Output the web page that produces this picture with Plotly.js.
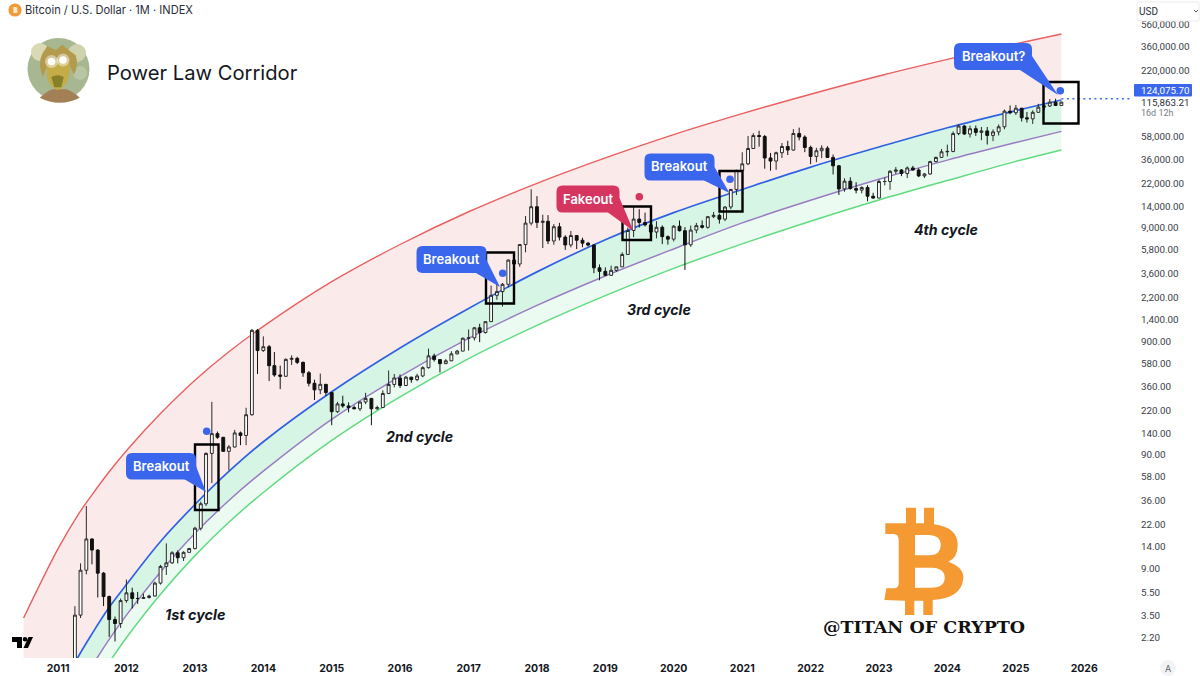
<!DOCTYPE html>
<html><head><meta charset="utf-8">
<script src="https://cdn.plot.ly/plotly-3.0.1.min.js"></script>
<style>html,body{margin:0;padding:0;background:#fff;overflow:hidden}#c{width:1200px;height:676px}</style>
</head><body><div id="c"></div>
<script>
const startYear = 2011, startMonth = 3, monthCount = 174;
const open = [
 .78,3.5,8.7,16.4,13.1,8.2,5.1,3.2,2.95,
 4.7,5.5,4.9,4.9,5.0,5.15,6.7,9.4,10.1,12.4,11.2,12.5,
 13.5,20.4,33.5,93,139,129,97,106,141,134,204,1130,
 750,810,552,457,445,627,640,590,478,386,338,378,
 320,217,254,244,236,230,264,284,230,236,314,377,
 430,369,437,416,448,530,673,624,575,609,701,742,
 963,970,1190,1080,1348,2300,2480,2875,4700,4340,6440,9950,
 13880,10100,10320,6920,9240,7490,6390,7730,7030,6630,6370,4020,
 3740,3450,3820,4100,5270,8570,10800,10090,9600,8300,9150,7560,
 7190,9350,8530,6410,8640,9450,9140,11340,11650,10780,13800,19700,
 28990,33100,45200,58800,57700,37300,35040,41500,47100,43800,61300,57000,
 46200,38500,43200,45500,37700,31800,19900,23300,20050,19430,20500,17160,
 16540,23130,23140,28470,29230,27200,30470,29230,25930,26970,34650,37720,
 42260,42580,61200,71330,60670,67500,62700,64600,58970,63330,70220,96400,
 93430,102400,84300,82500,94200,104600,107100,115700,108200];
const high = [
 4.2,10,32,16.6,13.3,8.4,5.2,3.4,4.9,
 7.2,6.1,5.6,5.4,5.3,6.9,9.7,15,12.8,13,12.8,13.7,
 21,35,95,265,145,130,110,150,145,235,1160,1160,
 1000,840,728,552,640,680,660,600,495,415,470,380,
 320,265,300,262,246,268,318,285,245,335,500,466,
 462,448,440,468,545,780,705,630,630,740,760,975,
 1150,1210,1290,1350,2800,3000,2950,4770,5000,6470,11500,19800,
 17200,11800,11700,9750,10000,7780,8480,7800,7400,6800,6500,4300,
 4050,4200,4100,5500,9100,13900,13200,12300,10900,10350,9500,7750,
 9550,10500,9180,9470,10000,10500,11450,12480,12080,14000,19900,29300,
 41900,58300,61700,64800,59500,41300,42400,50500,52900,67000,69000,59100,
 47900,45800,48200,47400,40000,32400,24700,25200,22800,21000,21500,18400,
 23950,25200,29200,31000,29800,31400,31800,30200,27500,35200,38400,44700,
 48900,64000,73800,72700,71900,72000,70000,70000,66500,73600,99800,108300,
 109300,102800,95000,97900,111900,110400,123200,124075,116800];
const low = [
 .56,3.3,8,9.8,5,4.2,2.25,2.05,2.7,
 4.5,4,4.4,4.9,4.9,5.2,6.5,7.9,9.9,10,10.5,12.5,
 13.3,19.5,32,51,125,96,66,105,110,110,200,466,
 730,404,441,343,440,560,570,440,363,275,310,300,
 165,212,235,214,228,220,253,165,225,235,310,355,
 351,365,390,403,436,520,600,480,570,605,695,740,
 750,920,890,1060,1340,2100,1830,2700,2950,4100,5500,9500,
 9000,6000,6500,6420,7000,5780,6080,5880,6100,6200,3600,3120,
 3400,3400,3700,4100,5260,7500,9100,9300,7700,7300,6500,6430,
 6850,8400,3850,6150,8100,8900,8900,11000,9850,10370,13200,17600,
 28100,32300,44900,47000,30000,28800,29300,37300,39600,43200,53300,42000,
 32900,34300,37200,37700,26700,17600,18800,19600,18200,18200,15500,16300,
 16500,21400,19550,26900,25800,24800,28900,25300,24900,26500,34100,37600,
 38500,41900,59100,59600,56500,58400,53500,49000,52500,58900,66800,90500,
 89100,78200,76600,74400,93400,98200,105100,107300,107300];
const close = [
 3.5,8.7,16.4,13.1,8.2,5.1,3.2,2.95,4.7,
 5.5,4.9,4.9,5.0,5.15,6.7,9.4,10.1,12.4,11.2,12.5,13.5,
 20.4,33.5,93,139,129,97,106,141,134,204,1130,750,
 810,552,457,445,627,640,590,478,386,338,378,320,
 217,254,244,236,230,264,284,230,236,314,377,430,
 369,437,416,448,530,673,624,575,609,701,742,963,
 970,1190,1080,1348,2300,2480,2875,4700,4340,6440,9950,13880,
 10100,10320,6920,9240,7490,6390,7730,7030,6630,6370,4020,3740,
 3450,3820,4100,5270,8570,10800,10090,9600,8300,9150,7560,7190,
 9350,8530,6410,8640,9450,9140,11340,11650,10780,13800,19700,28990,
 33100,45200,58800,57700,37300,35040,41500,47100,43800,61300,57000,46200,
 38500,43200,45500,37700,31800,19900,23300,20050,19430,20500,17160,16540,
 23130,23140,28470,29230,27200,30470,29230,25930,26970,34650,37720,42260,
 42580,61200,71330,60670,67500,62700,64600,58970,63330,70220,96400,93430,
 102400,84300,82500,94200,104600,107100,115700,108200,115863.21];

const bandDates = ["2010-07-01","2011-01-01","2011-04-15","2011-07-01","2011-10-01","2012-01-01","2012-07-01","2013-01-01","2013-07-01","2014-01-01","2015-01-01","2016-01-01","2017-01-01","2018-01-01","2019-01-01","2020-01-01","2021-01-01","2022-01-01","2023-01-01","2024-01-01","2025-01-01","2025-09-01"];
const bandRed = [3.30,13.47,26.4,40.2,64.2,98.3,209,411,732,1225,3030,6447,12530,22300,37370,60000,91800,136000,196700,275600,378000,461000];
const bandBlue = [.132,.673,1.466,2.39,4.10,6.5,15.6,33.0,64.5,118,325,790,1760,3700,7100,12300,19700,31000,46600,68900,97500,121000];
const bandPurple = [.0688,.351,.764,1.244,2.14,3.50,8.41,18.4,35.8,65,186,445,960,1873,3406,5893,10000,15800,24200,35700,51000,64000];
const bandGreen = [.0418,.216,.474,.776,1.34,2.21,5.34,11.7,23.0,42.1,121,293,637,1250,2285,3973,6535,10340,15900,23600,34800,43900];

const priceTicks = [560000,360000,220000,58000,36000,22000,14000,9000,5800,3600,2200,1400,900,580,360,220,140,90,58,36,22,14,9,5.5,3.5,2.2];
const yearTicks = [2011,2012,2013,2014,2015,2016,2017,2018,2019,2020,2021,2022,2023,2024,2025,2026];
const athPrice = 124075.70, lastPrice = 115863.21;

const months = [];
for (let i = 0; i < monthCount; i++) {
  const m = startMonth + i;
  months.push((startYear + Math.floor(m / 12)) + "-" + String(m % 12 + 1).padStart(2, "0") + "-01");
}
const PW = 1132, PH = 658;
const xRange = ["2010-02-25", "2026-09-13"], yRange = [0.1662, 5.9636];
const FONT = "Inter, 'Liberation Sans', sans-serif";
const AXISFONT = "Roboto, 'Liberation Sans', sans-serif";

const bandLine = (c, w) => ({color: c, width: w || 1.4, shape: "spline", smoothing: 1});
const traces = [
  {type:"scatter",mode:"lines",x:bandDates,y:bandRed,line:bandLine("#ea5f5f"),hoverinfo:"skip"},
  {type:"scatter",mode:"lines",x:bandDates,y:bandBlue,line:bandLine("#2f62e2",1.7),fill:"tonexty",fillcolor:"#fbeaea",hoverinfo:"skip"},
  {type:"scatter",mode:"lines",x:bandDates,y:bandPurple,line:bandLine("#9a7cc2",1.5),fill:"tonexty",fillcolor:"#d7f5e4",hoverinfo:"skip"},
  {type:"scatter",mode:"lines",x:bandDates,y:bandGreen,line:bandLine("#5fdb80",1.5),fill:"tonexty",fillcolor:"#ebfbf2",hoverinfo:"skip"},
  {type:"scatter",mode:"lines",x:["2025-09-01","2026-09-13"],y:[athPrice,athPrice],line:{color:"#3a6cf0",width:1.5,dash:"2px,3.5px"},hoverinfo:"skip"},
  {type:"candlestick",x:months,open:open,high:high,low:low,close:close,xaxis:"x2",yaxis:"y2",
   increasing:{line:{color:"#2a2a2a",width:1},fillcolor:"#ffffff"},
   decreasing:{line:{color:"#111111",width:1},fillcolor:"#111111"},whiskerwidth:0,hoverinfo:"skip"}
];

// helpers: page pixels to paper fractions for decorations
const px = (x) => x / PW, py = (y) => 1 - y / PH;
const P = (s) => s.replace(/(-?[\d.]+)[ ,](-?[\d.]+)/g, (_, a, b) => px(+a).toFixed(5) + "," + py(+b).toFixed(5));
const pathShape = (d, fill, extra) => Object.assign({type:"path",xref:"paper",yref:"paper",path:P(d),fillcolor:fill,line:{width:0},layer:"above"}, extra||{});
const rect = (x0,y0,x1,y1) => ({type:"rect",xref:"paper",yref:"paper",x0:px(x0),x1:px(x1),y0:py(y0),y1:py(y1),line:{color:"#000",width:2.4},fillcolor:"rgba(0,0,0,0)",layer:"above"});
const circle = (cx,cy,r,fill,extra) => Object.assign({type:"circle",xref:"paper",yref:"paper",x0:px(cx-r),x1:px(cx+r),y0:py(cy+r),y1:py(cy-r),fillcolor:fill,line:{width:0},layer:"above"}, extra||{});
const rounded = (x0,y0,x1,y1,r) => `M ${x0+r} ${y0} L ${x1-r} ${y0} Q ${x1} ${y0} ${x1} ${y0+r} L ${x1} ${y1-r} Q ${x1} ${y1} ${x1-r} ${y1} L ${x0+r} ${y1} Q ${x0} ${y1} ${x0} ${y1-r} L ${x0} ${y0+r} Q ${x0} ${y0} ${x0+r} ${y0} Z`;
const note = (text,x,y,font,anchor,extra) => Object.assign({text,xref:"paper",yref:"paper",x:px(x),y:py(y),showarrow:false,xanchor:anchor||"center",yanchor:"middle",borderpad:0,borderwidth:0,font:Object.assign({family:FONT},font)}, extra||{});

const BLUE="#3a66ee", PINK="#d6355f", ORANGE="#f59a33";
const callouts = [
 {text:"Breakout",x0:126,y0:453,x1:196,y1:479.5,tip:[206,492],base:[[184,479],[196,466]],c:BLUE},
 {text:"Breakout",x0:416.5,y0:246,x1:486.5,y1:273,tip:[500,287],base:[[476,273],[486.5,260]],c:BLUE},
 {text:"Fakeout",x0:556.5,y0:185.5,x1:619.5,y1:212.5,tip:[633.5,231],base:[[608,212.5],[619.5,198]],c:PINK},
 {text:"Breakout",x0:644.5,y0:153.5,x1:714.5,y1:180.5,tip:[729.5,193],base:[[704,180.5],[714.5,167]],c:BLUE},
 {text:"Breakout?",x0:954,y0:43,x1:1032,y1:70,tip:[1058,95],base:[[1020,70],[1032,56]],c:BLUE}
];
const shapes = [
 rect(195,444.5,218.5,510), rect(486,252.5,514,303.5), rect(622.5,206.5,651,240),
 rect(719.5,171,742.5,211.5), rect(1043.5,82,1078.5,123.5),
 circle(206.7,431.3,3.8,BLUE), circle(502.7,273.3,3.8,BLUE), circle(639.3,196.7,3.8,PINK),
 circle(730,179.3,3.8,BLUE), circle(1060.3,90.7,3.8,BLUE)
];
callouts.forEach(c => {
  shapes.push(pathShape(rounded(c.x0,c.y0,c.x1,c.y1,6), c.c));
  shapes.push(pathShape(`M ${c.base[0][0]} ${c.base[0][1]} L ${c.tip[0]} ${c.tip[1]} L ${c.base[1][0]} ${c.base[1][1]} Z`, c.c));
});
// Bitcoin emblem
const bz = (x,y) => (780+x/3).toFixed(1)+" "+(490+y/3).toFixed(1);
const bitcoinPath =
 `M ${bz(316,100)} L ${bz(378,100)} L ${bz(378,53)} L ${bz(408,53)} L ${bz(408,100)} L ${bz(432,100)} L ${bz(432,53)} L ${bz(462,53)} L ${bz(462,103)} ` +
 `Q ${bz(533,112)} ${bz(533,165)} Q ${bz(533,203)} ${bz(505,215)} Q ${bz(552,232)} ${bz(550,265)} Q ${bz(545,325)} ${bz(458,330)} L ${bz(458,375)} L ${bz(430,375)} L ${bz(430,332)} L ${bz(403,332)} L ${bz(403,375)} L ${bz(375,375)} L ${bz(375,332)} L ${bz(313,330)} L ${bz(319,295)} L ${bz(342,295)} Q ${bz(356,295)} ${bz(356,280)} L ${bz(356,150)} Q ${bz(356,132)} ${bz(340,132)} L ${bz(316,132)} Z ` +
 `M ${bz(405,135)} L ${bz(450,135)} Q ${bz(482,137)} ${bz(482,165)} Q ${bz(482,195)} ${bz(450,196)} L ${bz(405,196)} Z ` +
 `M ${bz(405,233)} L ${bz(455,233)} Q ${bz(494,235)} ${bz(494,263)} Q ${bz(494,292)} ${bz(455,293)} L ${bz(405,293)} Z`;
shapes.push(pathShape(bitcoinPath, ORANGE, {fillrule:"evenodd"}));
// TradingView mark
shapes.push(pathShape("M 12 637 L 22 637 L 22 648 L 17 648 L 17 642 L 12 642 Z","#000"));
shapes.push(circle(25,639.3,2.3,"#000"));
shapes.push(pathShape("M 28.5 637 L 33 637 L 28 648 L 23.5 648 Z","#000"));
// header coin
shapes.push(circle(15,10,6.6,"#f09a3a"));
shapes.push(pathShape("M 13.4 7 L 15.8 7 Q 17.4 7 17.4 8.5 Q 17.4 9.7 16.2 10 Q 17.8 10.3 17.8 11.6 Q 17.8 13 15.8 13 L 13.4 13 Z","#ffe9cf"));
// avatar
const az = (x,y) => (19+x/3).toFixed(1)+" "+(32+y/3).toFixed(1);
shapes.push(circle(58.5,69,31,"#a7b791"));
shapes.push(circle(40,52,9,"#d9d9b4"));
shapes.push(circle(77,53,9,"#cfd3ad"));
shapes.push(circle(80,73,7,"#b9c6a4"));
shapes.push(pathShape(`M ${az(62,197)} Q ${az(85,178)} ${az(100,172)} L ${az(142,172)} Q ${az(165,180)} ${az(182,197)} Q ${az(122,228)} ${az(62,197)} Z`,"#a37f55"));
shapes.push(pathShape(`M ${az(72,135)} Q ${az(55,95)} ${az(70,65)} L ${az(85,42)} L ${az(110,55)} L ${az(130,38)} L ${az(150,55)} L ${az(170,70)} Q ${az(180,100)} ${az(165,128)} L ${az(150,95)} L ${az(85,100)} Z`,"#b39a4c"));
shapes.push(pathShape(`M ${az(82,85)} L ${az(150,80)} Q ${az(156,120)} ${az(146,145)} Q ${az(130,174)} ${az(115,174)} Q ${az(95,166)} ${az(85,140)} Z`,"#c4ad47"));
shapes.push(pathShape(`M ${az(97,135)} Q ${az(116,124)} ${az(134,135)} L ${az(127,166)} L ${az(106,166)} Z`,"#86802a"));
shapes.push(circle(51.5,61.5,6.5,"rgba(255,255,255,0.45)"));
shapes.push(circle(63,60,6.5,"rgba(255,255,255,0.45)"));
shapes.push(circle(51.5,61.5,3.8,"#ffffff"));
shapes.push(circle(63,60,3.8,"#ffffff"));
// axis widgets
shapes.push(pathShape(rounded(1137,2,1199,21,2),"#ffffff",{line:{color:"#ececec",width:1}}));
shapes.push(pathShape("M 1194 10 L 1196 12 L 1198 10","rgba(0,0,0,0)",{line:{color:"#555",width:1}}));
shapes.push(pathShape(rounded(1134,84,1192,96.5,1),"#3a66ee"));
shapes.push(circle(1168,668,8,"#f2f3f6"));

const annotations = [
 note("Bitcoin / U.S. Dollar · 1M · INDEX",25,10.5,{size:11.1,color:"#2a2e39"},"left"),
 note("Power Law Corridor",107,72.5,{size:20.2,color:"#131722"},"left"),
 note("124,075.70",1140.5,90.5,{size:9.8,color:"#ffffff",family:AXISFONT},"left"),
 note("115,863.21",1140.5,102,{size:9.8,color:"#2a2e39",family:AXISFONT},"left"),
 note("16d 12h",1140.5,112.5,{size:9,color:"#787b86",family:AXISFONT},"left"),
 note("USD",1139,11,{size:10,color:"#2a2e39",family:AXISFONT},"left"),
 note("A",1168,668,{size:9,color:"#666"}),
 note("<b><i>1st cycle</i></b>",195,614,{size:14.4,color:"#131722"}),
 note("<b><i>2nd cycle</i></b>",419,436,{size:14.2,color:"#131722"}),
 note("<b><i>3rd cycle</i></b>",659,309,{size:14.2,color:"#131722"}),
 note("<b><i>4th cycle</i></b>",946,229,{size:14.2,color:"#131722"}),
 note("@TITAN OF CRYPTO",923.5,626.5,{size:17.5,color:"#111",family:"'DejaVu Serif', serif",weight:700})
];
callouts.forEach(c => annotations.push(note(c.text,(c.x0+c.x1)/2,(c.y0+c.y1)/2-0.5,{size:13,color:"#fff",weight:600})));

const layout = {
  width:1200,height:676,margin:{l:0,r:68,t:0,b:18,pad:0},
  paper_bgcolor:"#fff",plot_bgcolor:"#fff",showlegend:false,font:{family:FONT},dragmode:false,
  xaxis:{type:"date",range:xRange,showgrid:false,zeroline:false,showline:false,ticks:"",
    tickvals:yearTicks.map(y=>y+"-01-01"),ticktext:yearTicks.map(String),
    tickfont:{size:10.5,color:"#131722",weight:700,family:FONT},ticklabelstandoff:2,rangeslider:{visible:false}},
  yaxis:{type:"log",range:yRange,side:"right",showgrid:false,zeroline:false,showline:false,ticks:"",
    tickvals:priceTicks,ticktext:priceTicks.map(v=>v.toLocaleString("en-US",{minimumFractionDigits:2,maximumFractionDigits:2})),
    tickfont:{size:9.8,color:"#3a3d47",family:AXISFONT},ticklabelstandoff:8},
  xaxis2:{type:"date",range:xRange,overlaying:"x",visible:false,anchor:"y2",rangeslider:{visible:false}},
  yaxis2:{type:"log",range:yRange,overlaying:"y",visible:false,side:"right",anchor:"x2"},
  boxgap:0.22,shapes,annotations
};
Plotly.newPlot("c",traces,layout,{displayModeBar:false,staticPlot:true});
</script></body></html>
